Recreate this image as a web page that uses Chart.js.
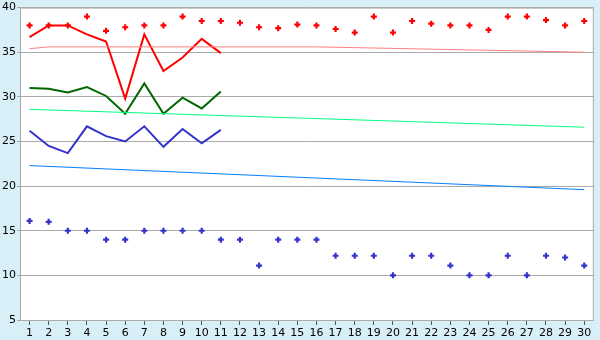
<!DOCTYPE html>
<html><head><meta charset="utf-8">
<script src="https://cdn.jsdelivr.net/npm/chart.js@4"></script>
<style>html,body{margin:0;padding:0;background:#d9eff7}#w{width:600px;height:340px}</style>
</head><body><div id="w"><canvas id="c"></canvas></div>
<script>
// days and series
const DAYS=[1,2,3,4,5,6,7,8,9,10,11,12,13,14,15,16,17,18,19,20,21,22,23,24,25,26,27,28,29,30];
const RED_LINE=[36.7,38,38,37,36.2,29.8,37,32.9,34.4,36.5,34.9];
const GRN_LINE=[31,30.9,30.5,31.1,30.1,28.1,31.5,28.1,29.9,28.7,30.6];
const BLU_LINE=[26.2,24.5,23.7,26.7,25.6,25,26.7,24.4,26.4,24.8,26.3];
const RED_PTS=[38,38,38,39,37.4,37.8,38,38,39,38.5,38.5,38.3,37.8,37.7,38.1,38,37.6,37.2,39,37.2,38.5,38.2,38,38,37.5,39,39,38.6,38,38.5];
const BLU_PTS=[16.1,16,15,15,14,14,15,15,15,15,14,14,11.1,14,14,14,12.2,12.2,12.2,10,12.2,12.2,11.1,10,10,12.2,10,12.2,12,11.1];
// trend lines: read at the ends, drawn straight between
const RED_TR={1:35.4,2:35.6,16:35.6,30:35.0};
const GRN_TR={1:28.6,30:26.6};
const BLU_TR={1:22.3,30:19.6};
const Y_TICKS=[5,10,15,20,25,30,35,40];

function tr(o){return DAYS.map(function(d){return o[d]!==undefined?o[d]:null})}
function ln(d,col,w){return{data:d,borderColor:col,backgroundColor:col,borderWidth:w,pointRadius:0,tension:0,fill:false,spanGaps:true}}
function pts(d,col){return{data:d,showLine:false,borderColor:col,backgroundColor:col,pointStyle:'cross',pointRadius:3,pointBorderWidth:2.2}}

const frame={id:'frame',
 beforeDraw:function(ch){var a=ch.chartArea,x=ch.ctx;x.save();x.fillStyle='#fff';x.fillRect(a.left,a.top,a.right-a.left,a.bottom-a.top);x.restore()},
 afterDraw:function(ch){var a=ch.chartArea,x=ch.ctx;x.save();x.strokeStyle='#aaaaaa';x.lineWidth=1;
  x.strokeRect(a.left+0.5,a.top+0.5,a.right-a.left-1,a.bottom-a.top);x.restore()}};

Chart.defaults.font.family='"DejaVu Sans",Verdana,sans-serif';
Chart.defaults.font.size=11;
Chart.defaults.color='#000';
new Chart(document.getElementById('c'),{
 type:'line',
 data:{labels:DAYS,datasets:[
  ln(tr(RED_TR),'#ff8080',1),ln(tr(GRN_TR),'#00ff80',1),ln(tr(BLU_TR),'#0080ff',1),
  ln(RED_LINE,'#ff0000',2),ln(GRN_LINE,'#006600',2),ln(BLU_LINE,'#3333cc',2),
  pts(RED_PTS,'#ff0000'),pts(BLU_PTS,'#3333cc')]},
 options:{responsive:true,maintainAspectRatio:false,animation:false,
  layout:{padding:{top:5,right:5,left:0,bottom:0}},
  plugins:{legend:{display:false},tooltip:{enabled:false}},
  scales:{
   x:{offset:true,grid:{drawOnChartArea:false,drawTicks:true,tickLength:5,color:'#555',offset:false},
    border:{color:'#aaaaaa'},ticks:{padding:2,maxRotation:0,autoSkip:false},
    afterFit:function(s){s.height=20}},
   y:{min:5,max:40,grid:{color:'#aaaaaa',tickLength:3},border:{color:'#aaaaaa'},
    afterBuildTicks:function(s){s.ticks=Y_TICKS.map(function(v){return{value:v}})},
    ticks:{padding:1},afterFit:function(s){s.width=20}}
  }},
 plugins:[frame]
});
</script></body></html>
